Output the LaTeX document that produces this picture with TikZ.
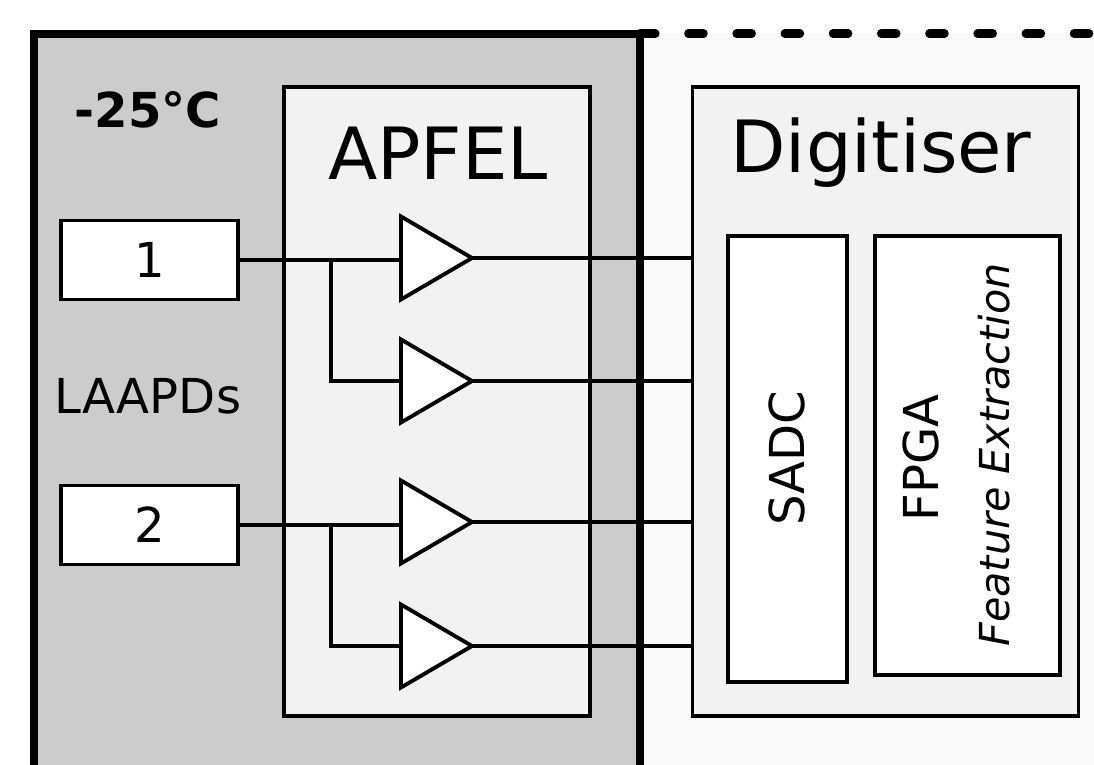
\documentclass[tikz,border=0pt]{standalone}
\usepackage{fontspec}
\setmainfont{DejaVu Sans}
\usepackage{xcolor}
\usetikzlibrary{shapes.geometric,calc}

\definecolor{coldzone}{HTML}{CCCCCC}
\definecolor{warmzone}{HTML}{F9F9F9}
\definecolor{modulefill}{HTML}{F2F2F2}

\tikzset{
    wire/.style={black, line width=1pt},
    modulebox/.style={draw=black, line width=1.1pt, fill=modulefill, inner sep=0pt},
    whitebox/.style={draw=black, line width=1.1pt, fill=white, inner sep=0pt, font=\fontsize{13.7}{16}\selectfont},
    amp/.style={draw=black, line width=1.1pt, fill=white, isosceles triangle, isosceles triangle stretches, inner sep=0pt, outer sep=0pt, minimum width=0.83cm, minimum height=0.71cm, anchor=west}
}

\begin{document}
\begin{tikzpicture}
        \useasboundingbox (0,0) rectangle (10.94,7.65);

        % Zonen
        \fill[warmzone] (6.40,0) rectangle (10.94,7.31);
        \fill[coldzone] (0.34,0) rectangle (6.40,7.31);

        % Module
        \node[modulebox, minimum width=3.06cm, minimum height=6.29cm] (apfel) at (4.37,3.635) {};
        \node[modulebox, minimum width=3.86cm, minimum height=6.29cm] (digitiser) at (8.855,3.635) {};
        \node[font=\fontsize{20.5}{24}\selectfont] (apfeltext) at (4.38,6.12) {APFEL};
        \node[font=\fontsize{20.5}{24}\selectfont] (digitisertext) at (8.81,6.12) {Digitiser};

        % Innere Boxen
        \node[whitebox, minimum width=1.19cm, minimum height=4.46cm] (sadc) at (7.875,3.06) {};
        \node[whitebox, minimum width=1.85cm, minimum height=4.39cm] (fpga) at (9.675,3.095) {};
        \node[rotate=90, font=\fontsize{13.7}{16}\selectfont] (sadctext) at (7.87,3.07) {SADC};
        \node[rotate=90, font=\fontsize{13.7}{16}\selectfont] (fpgatext) at (9.21,3.07) {FPGA};
        \node[rotate=90, font=\fontsize{11.75}{14}\itshape] (featuretext) at (9.94,3.10) {Feature Extraction};

        % LAAPDs
        \node[whitebox, minimum width=1.77cm, minimum height=0.79cm] (apd1) at (1.495,5.05) {1};
        \node[whitebox, minimum width=1.77cm, minimum height=0.79cm] (apd2) at (1.495,2.40) {2};
        \node[font=\fontsize{13.7}{16}\selectfont] (laapds) at (1.48,3.69) {LAAPDs};
        \node[font=\fontsize{13.7}{16}\bfseries] (temp) at (1.48,6.55) {-25°C};

        % Verstaerker
        \node[amp] (amp1) at (4.01,5.07) {};
        \node[amp] (amp2) at (4.01,3.84) {};
        \node[amp] (amp3) at (4.01,2.43) {};
        \node[amp] (amp4) at (4.01,1.19) {};

        % Verzweigungen
        \coordinate (branch1) at (3.31,5.05);
        \coordinate (branch2) at (3.31,2.40);

        % Leitungen
        \draw[wire] (apd1.east) -- (apd1.east -| amp1.west);
        \draw[wire] (branch1) |- (amp2.west);
        \draw[wire] (apd2.east) -- (apd2.east -| amp3.west);
        \draw[wire] (branch2) |- (amp4.west);
        \draw[wire] (amp1.east) -- (amp1.east -| digitiser.west);
        \draw[wire] (amp2.east) -- (amp2.east -| digitiser.west);
        \draw[wire] (amp3.east) -- (amp3.east -| digitiser.west);
        \draw[wire] (amp4.east) -- (amp4.east -| digitiser.west);

        % Rahmen
        \draw[line width=2.3pt] (0.34,0) -- (0.34,7.31) -- (6.40,7.31) -- (6.40,0);
        \draw[line width=2.3pt, line cap=round, dash pattern=on 0.155cm off 0.327cm] (6.40,7.315) -- (10.94,7.315);

\end{tikzpicture}
\end{document}
